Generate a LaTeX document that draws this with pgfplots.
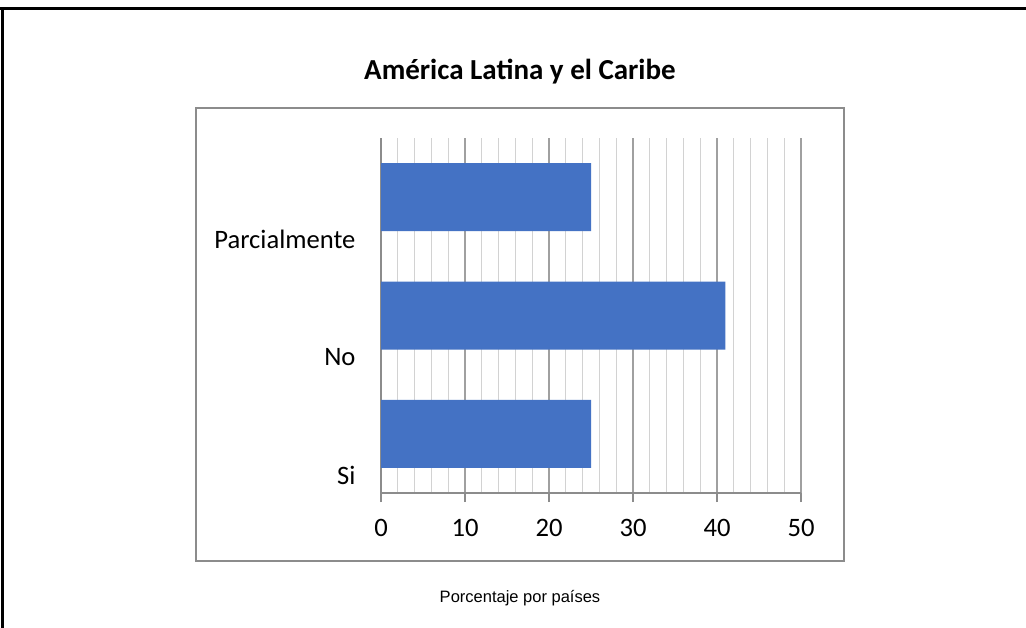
\documentclass[border=0pt]{standalone}
\usepackage{fontspec}
\setmainfont{Carlito}
\newfontfamily\arialfont{Liberation Sans}
\usepackage{pgfplots}
\pgfplotsset{compat=1.18}
\definecolor{barblue}{HTML}{4472C4}
\definecolor{majgrid}{HTML}{A0A0A0}
\definecolor{mingrid}{HTML}{D2D2D2}
\definecolor{framegray}{HTML}{8C8C8C}
\begin{document}
\begin{tikzpicture}
\useasboundingbox (0pt,0pt) rectangle (1026pt,-628pt);
\fill[white] (0pt,0pt) rectangle (1026pt,-628pt);
% outer table border
\draw[line width=3pt] (0pt,-8.5pt) -- (1026pt,-8.5pt);
\draw[line width=3pt] (2pt,-8.5pt) -- (2pt,-628pt);
% chart frame
\draw[framegray, line width=1.5pt] (196pt,-108pt) rectangle (844pt,-561pt);
% title
\node[font=\fontsize{29}{34}\selectfont\bfseries] at (520pt,-72pt) {América Latina y el Caribe};
% caption below
\node[font=\arialfont\fontsize{16.5}{20}\selectfont] at (520pt,-598pt) {Porcentaje por países};
\begin{axis}[
  at={(381pt,-493pt)}, anchor=south west,
  scale only axis, width=420pt, height=355pt,
  xbar, bar width=68pt, bar shift=0pt,
  xmin=0, xmax=50, ymin=-0.5, ymax=2.5,
  xtick={0,10,20,30,40,50},
  minor x tick num=4,
  ytick={0,1,2},
  yticklabels={Si,No,Parcialmente},
  axis x line*=bottom, axis y line*=left,
  axis line style={framegray, line width=1.3pt, -},
  xmajorgrids, xminorgrids,
  major grid style={majgrid, line width=1.3pt},
  minor grid style={mingrid, line width=1.3pt},
  tick align=outside,
  x tick style={framegray, line width=1.3pt},
  major tick length=9pt,
  minor tick length=0pt,
  y tick style={draw=none},
  tick label style={font=\fontsize{26.6}{30}\selectfont, text=black},
  /pgf/number format/assume math mode=true,
  xticklabel style={yshift=-14pt},
  yticklabel style={anchor=east, xshift=-13pt, yshift=-42pt},
]
\addplot[fill=barblue, draw=none] coordinates {(25,0) (41,1) (25,2)};
\end{axis}
\end{tikzpicture}
\end{document}
